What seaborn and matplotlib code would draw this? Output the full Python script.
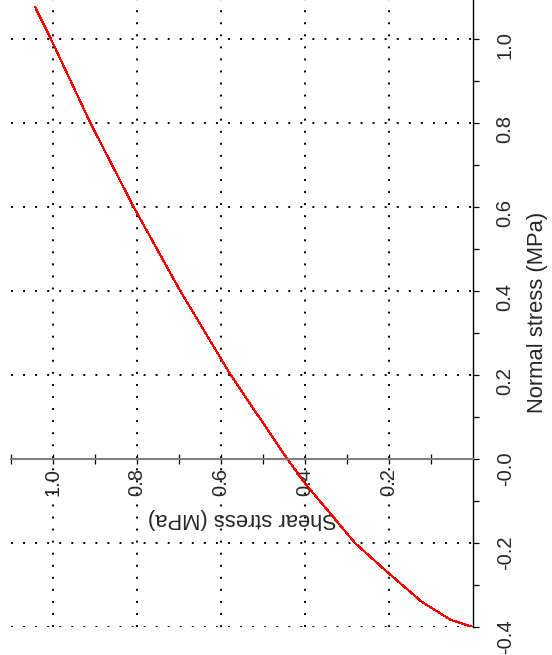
import matplotlib

matplotlib.use("Agg")
import matplotlib.pyplot as plt
import pandas as pd
import seaborn as sns
from matplotlib.ticker import FixedLocator

# failure envelope (MPa)
NORMAL_STRESS = [-0.4, -0.383, -0.34, -0.27, -0.2, -0.058, 0.0, 0.2, 0.4, 0.6, 0.8, 1.0, 1.077]
SHEAR_STRESS = [0.0, 0.053, 0.122, 0.203, 0.281, 0.4, 0.442, 0.577, 0.697, 0.808, 0.911, 1.005, 1.043]

NORMAL_TICKS = [-0.4, -0.2, 0.0, 0.2, 0.4, 0.6, 0.8, 1.0]
NORMAL_TICK_LABELS = ["-0.4", "-0.2", "-0.0", "0.2", "0.4", "0.6", "0.8", "1.0"]
NORMAL_MINOR_TICKS = [-0.3, -0.1, 0.1, 0.3, 0.5, 0.7, 0.9, 1.1]
SHEAR_TICKS = [0.2, 0.4, 0.6, 0.8, 1.0]
SHEAR_TICK_LABELS = ["0.2", "0.4", "0.6", "0.8", "1.0"]
SHEAR_MINOR_TICKS = [0.1, 0.3, 0.5, 0.7, 0.9, 1.1]

TICK_FONT_SIZE = 14.5
LABEL_FONT_SIZE = 15.8
DOTTED = (0, (1, 5.2))


def main() -> None:
    sns.set_style("ticks")
    plt.rcParams["font.family"] = ["Liberation Sans", "DejaVu Sans"]

    df = pd.DataFrame({"normal": NORMAL_STRESS, "shear": SHEAR_STRESS})

    fig = plt.figure(figsize=(5.52, 6.55), dpi=100)
    # the whole chart is turned a quarter turn: normal stress runs upwards,
    # shear stress runs to the left
    ax = fig.add_axes([0.0199, 0.0427, 0.837, 0.962])

    sns.lineplot(
        data=df, x="shear", y="normal", sort=False, estimator=None,
        color="#ff0000", linewidth=0.8, antialiased=False, ax=ax,
    )

    ax.set_xlim(1.1, 0.0)
    ax.set_ylim(-0.4, 1.1)

    # spines first: moving a spine resets the ticks of its axis
    ax.spines["left"].set_visible(False)
    ax.spines["top"].set_visible(False)
    ax.spines["right"].set_color("black")
    ax.spines["right"].set_linewidth(1.0)
    ax.spines["bottom"].set_position(("data", 0.0))
    ax.spines["bottom"].set_color("#808080")
    ax.spines["bottom"].set_linewidth(1.5)

    # normal stress axis on the right
    ax.yaxis.tick_right()
    ax.yaxis.set_label_position("right")
    ax.yaxis.set_major_locator(FixedLocator(NORMAL_TICKS))
    ax.yaxis.set_minor_locator(FixedLocator(NORMAL_MINOR_TICKS))
    ax.tick_params(axis="y", which="both", direction="out", length=4.3,
                   width=0.9, color="black", pad=12)
    ax.set_yticklabels(NORMAL_TICK_LABELS, rotation=90, fontsize=TICK_FONT_SIZE)
    ax.set_ylabel("Normal stress (MPa)", fontsize=LABEL_FONT_SIZE)
    ax.yaxis.set_label_coords(1.117, 0.5)

    # shear stress axis sits on normal stress = 0
    ax.xaxis.set_major_locator(FixedLocator(SHEAR_TICKS))
    ax.xaxis.set_minor_locator(FixedLocator(SHEAR_MINOR_TICKS))
    ax.tick_params(axis="x", which="both", direction="inout", length=7.2,
                   width=0.9, color="black", pad=2.9)
    ax.set_xticklabels(SHEAR_TICK_LABELS, rotation=90, fontsize=TICK_FONT_SIZE)
    ax.set_xlabel("Shear stress (MPa)", fontsize=LABEL_FONT_SIZE, rotation=180)
    ax.xaxis.set_label_coords(0.5, 0.189)

    ax.set_axisbelow(True)
    ax.grid(True, which="major", color="black", linestyle=DOTTED, linewidth=1.4)

    fig.savefig("out.png", dpi=100)


if __name__ == "__main__":
    main()
